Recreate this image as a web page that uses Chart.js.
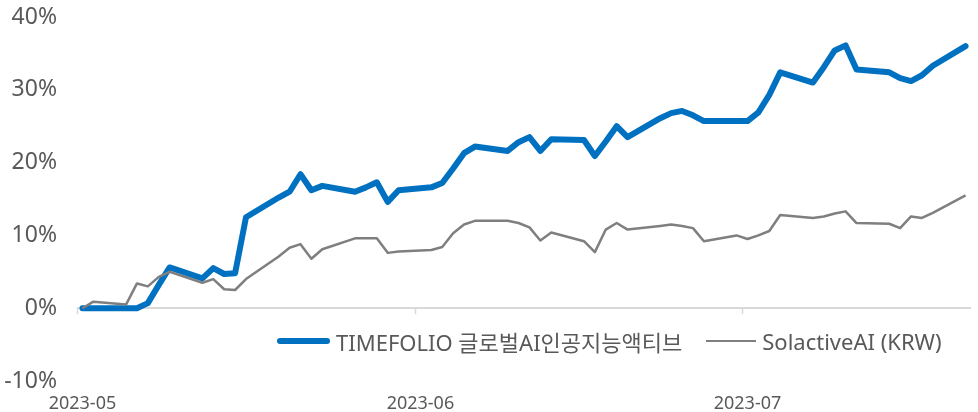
<!DOCTYPE html>
<html lang="ko">
<head>
<meta charset="utf-8">
<title>TIMEFOLIO 글로벌AI인공지능액티브 vs SolactiveAI (KRW)</title>
<script src="https://cdn.jsdelivr.net/npm/chart.js"></script>
<style>
    html, body { margin: 0; padding: 0; background: #fff; }
    #wrap { position: relative; width: 978px; height: 412px; }
    #legend {
        position: absolute; left: 277px; top: 327px;
        display: flex; align-items: center;
        font-family: 'Noto Sans', 'Noto Sans CJK KR', sans-serif;
        font-size: 22px; color: #595959; white-space: nowrap;
    }
    .swatch { display: inline-block; width: 53px; border-radius: 3px; margin-right: 6px; }
    .item { display: flex; align-items: center; height: 28px; }
</style>
</head>
<body>
<div id="wrap">
    <canvas id="perfChart" width="978" height="412"></canvas>
    <div id="legend"></div>
</div>
<script>
// trading days (Korean market), first point = day 0
const dates = [
    '2023-05-04', '2023-05-05', '2023-05-08', '2023-05-09', '2023-05-10', '2023-05-11', '2023-05-12',
    '2023-05-15', '2023-05-16', '2023-05-17', '2023-05-18', '2023-05-19',
    '2023-05-22', '2023-05-23', '2023-05-24', '2023-05-25', '2023-05-26',
    '2023-05-29', '2023-05-30', '2023-05-31', '2023-06-01', '2023-06-02',
    '2023-06-05', '2023-06-06', '2023-06-07', '2023-06-08', '2023-06-09',
    '2023-06-12', '2023-06-13', '2023-06-14', '2023-06-15', '2023-06-16',
    '2023-06-19', '2023-06-20', '2023-06-21', '2023-06-22', '2023-06-23',
    '2023-06-26', '2023-06-27', '2023-06-28', '2023-06-29', '2023-06-30',
    '2023-07-03', '2023-07-04', '2023-07-05', '2023-07-06', '2023-07-07',
    '2023-07-10', '2023-07-11', '2023-07-12', '2023-07-13', '2023-07-14',
    '2023-07-17', '2023-07-18', '2023-07-19', '2023-07-20', '2023-07-21',
    '2023-07-24'
];

const timefolio = [
    0, 0, 0, 0, 0.7, 3.2, 5.6,
    4.1, 5.5, 4.7, 4.8, 12.5,
    15.2, 16.0, 18.4, 16.2, 16.8,
    16.0, 16.6, 17.3, 14.6, 16.2,
    16.6, 17.2, 19.2, 21.3, 22.2,
    21.6, 22.8, 23.5, 21.6, 23.2,
    23.1, 20.9, 22.9, 25.0, 23.5,
    26.1, 26.8, 27.1, 26.5, 25.7,
    25.7, 25.7, 26.9, 29.3, 32.4,
    31.0, 33.1, 35.4, 36.1, 32.8,
    32.4, 31.6, 31.2, 32.0, 33.3,
    36.0
];

const solactive = [
    0, 0.9, 0.5, 3.4, 3.0, 4.3, 5.0,
    3.5, 4.0, 2.6, 2.5, 4.0,
    7.1, 8.3, 8.8, 6.8, 8.1,
    9.6, 9.6, 9.6, 7.6, 7.8,
    8.0, 8.4, 10.3, 11.5, 12.0,
    12.0, 11.7, 11.1, 9.3, 10.4,
    9.2, 7.7, 10.8, 11.7, 10.8,
    11.3, 11.5, 11.3, 11.0, 9.2,
    10.0, 9.5, 10.0, 10.6, 12.8,
    12.4, 12.6, 13.0, 13.3, 11.7,
    11.6, 11.0, 12.6, 12.4, 13.1,
    15.5
];

const tickDates = ['2023-05-04', '2023-06-04', '2023-07-04'];
const tickLabels = ['2023-05', '2023-06', '2023-07'];
const yTicks = [-10, 0, 10, 20, 30, 40];

const seriesNames = ['TIMEFOLIO 글로벌AI인공지능액티브', 'SolactiveAI (KRW)'];
const seriesColors = ['#0070C0', '#7F7F7F'];

const DAY = 86400000;
const t0 = Date.parse(dates[0]);
const dayOf = d => Math.round((Date.parse(d) - t0) / DAY);
const lastDay = dayOf(dates[dates.length - 1]);

const toPoints = vals => vals.map((v, i) => ({ x: dayOf(dates[i]), y: v }));
const tickPos = tickDates.map(dayOf);

const FONT = "'Noto Sans', 'Noto Sans CJK KR', sans-serif";

// small tick marks hanging under the zero line at each month boundary
const zeroTicks = {
    id: 'zeroTicks',
    beforeDatasetsDraw(chart) {
        const { ctx, scales: { x, y } } = chart;
        const y0 = y.getPixelForValue(0);
        ctx.save();
        ctx.strokeStyle = '#D9D9D9';
        ctx.lineWidth = 1.5;
        tickPos.forEach(p => {
            const px = Math.round(x.getPixelForValue(p - 0.5)) + 0.5;
            ctx.beginPath();
            ctx.moveTo(px, y0);
            ctx.lineTo(px, y0 + 6);
            ctx.stroke();
        });
        ctx.restore();
    }
};

const ctx = document.getElementById('perfChart').getContext('2d');
new Chart(ctx, {
    type: 'line',
    plugins: [zeroTicks],
    data: {
        datasets: [{
            label: seriesNames[0],
            data: toPoints(timefolio),
            borderColor: seriesColors[0],
            borderWidth: 6,
            borderJoinStyle: 'round',
            borderCapStyle: 'round',
            pointRadius: 0,
            tension: 0,
            order: 2
        }, {
            label: seriesNames[1],
            data: toPoints(solactive),
            borderColor: seriesColors[1],
            borderWidth: 2.5,
            borderJoinStyle: 'round',
            pointRadius: 0,
            tension: 0,
            order: 1
        }]
    },
    options: {
        responsive: false,
        animation: false,
        layout: {
            padding: { top: 17, right: 7, left: 0, bottom: 0 }
        },
        plugins: {
            legend: { display: false },
            tooltip: { enabled: false }
        },
        scales: {
            x: {
                type: 'linear',
                min: -0.5,
                max: lastDay + 0.5,
                afterBuildTicks: scale => {
                    scale.ticks = tickPos.map(v => ({ value: v }));
                },
                afterFit: scale => {
                    scale.height = 31;
                    scale.paddingLeft = 0;
                    scale.paddingRight = 0;
                },
                ticks: {
                    autoSkip: false,
                    maxRotation: 0,
                    padding: 12,
                    color: '#595959',
                    font: { family: FONT, size: 18 },
                    callback: value => tickLabels[tickPos.indexOf(value)]
                },
                grid: { display: false, drawTicks: false },
                border: { display: false }
            },
            y: {
                min: -10,
                max: 40,
                afterBuildTicks: scale => {
                    scale.ticks = yTicks.map(v => ({ value: v }));
                },
                afterFit: scale => {
                    scale.width = 77;
                    scale.paddingTop = 0;
                    scale.paddingBottom = 0;
                },
                ticks: {
                    padding: 20,
                    color: '#595959',
                    font: { family: FONT, size: 23 },
                    callback: value => value + '%'
                },
                grid: {
                    drawTicks: false,
                    lineWidth: 2,
                    color: c => (c.tick && c.tick.value === 0) ? '#D9D9D9' : 'rgba(0,0,0,0)'
                },
                border: { display: false }
            }
        }
    }
});

// legend sits inside the plot, below the zero line
const legend = document.getElementById('legend');
seriesNames.forEach((name, i) => {
    const item = document.createElement('div');
    item.className = 'item';
    if (i > 0) item.style.marginLeft = '24px';
    const sw = document.createElement('span');
    sw.className = 'swatch';
    sw.style.height = i === 0 ? '6px' : '2.5px';
    sw.style.background = seriesColors[i];
    if (i > 0) { sw.style.width = '50px'; sw.style.borderRadius = '0'; }
    const label = document.createElement('span');
    label.textContent = name;
    item.appendChild(sw);
    item.appendChild(label);
    legend.appendChild(item);
});
</script>
</body>
</html>
